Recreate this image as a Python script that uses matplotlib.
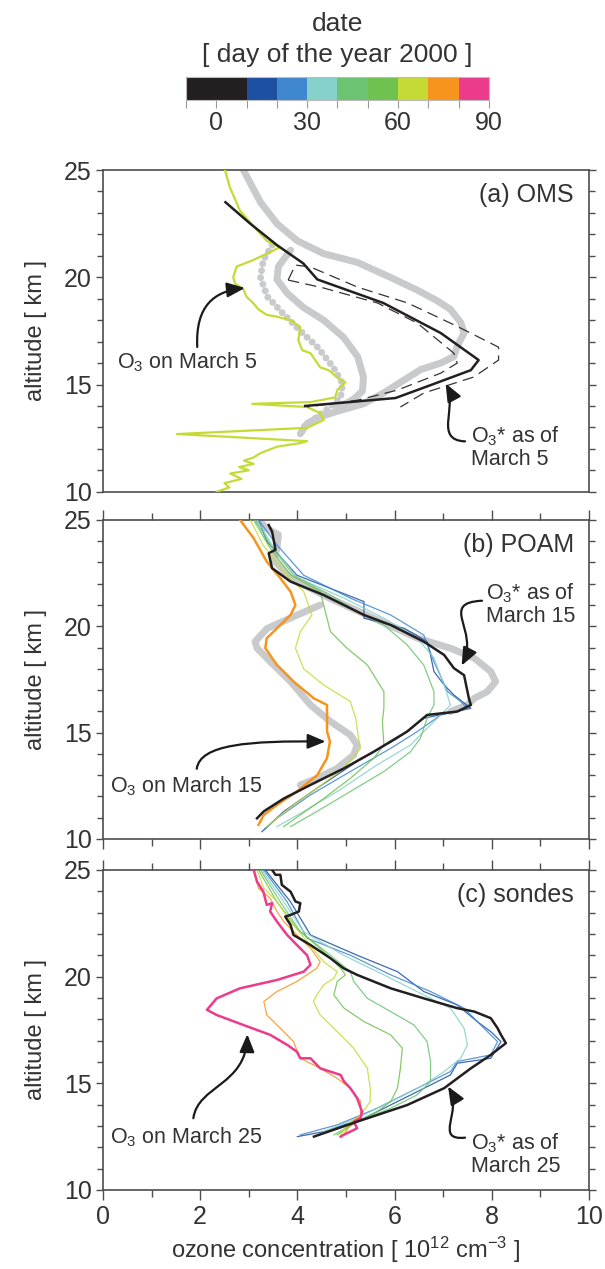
import matplotlib
matplotlib.use("Agg")
import matplotlib.pyplot as plt
from matplotlib.colors import ListedColormap, BoundaryNorm
from matplotlib.colorbar import ColorbarBase
from matplotlib.patches import FancyArrowPatch
from matplotlib.path import Path

plt.rcParams['font.family'] = ['Liberation Sans', 'DejaVu Sans']
plt.rcParams['mathtext.fontset'] = 'custom'
plt.rcParams['mathtext.rm'] = 'Liberation Sans'
plt.rcParams['mathtext.it'] = 'Liberation Sans:italic'
plt.rcParams['text.color'] = '#333333'
plt.rcParams['axes.labelcolor'] = '#333333'
plt.rcParams['xtick.color'] = '#4d4d4d'
plt.rcParams['ytick.color'] = '#4d4d4d'
plt.rcParams['xtick.labelcolor'] = '#333333'
plt.rcParams['ytick.labelcolor'] = '#333333'

# --- colour scale: day of the year 2000 ---
day_bounds = [-10, 0, 10, 20, 30, 40, 50, 60, 70, 80, 90]
day_colors = ['#231f20', '#231f20', '#1d4fa3', '#3f87cf', '#86d1cb',
              '#6cc473', '#6fc24f', '#c6da36', '#f7941e', '#ec3b8b']
day_ticks = [-10, 0, 10, 20, 30, 40, 50, 60, 70, 80, 90]
day_ticklabels = ['', '0', '', '', '30', '', '', '60', '', '', '90']

# --- (a) OMS ---
oms_mar5_conc = [2.51, 2.61, 2.82, 3.09, 3.37, 3.64, 3.37, 3.09, 2.75, 2.68, 2.72, 2.89, 2.95,
                 3.09, 3.20, 3.37, 3.60, 3.86, 4.06, 4.02, 4.10, 4.27, 4.47, 4.64, 4.89, 4.99,
                 4.82, 4.78, 4.27, 3.07, 4.20, 4.47, 4.54, 4.20, 1.52, 4.20, 4.06, 3.58, 3.24,
                 3.10, 2.90, 3.10, 2.80, 3.00, 2.62, 2.85, 2.50, 2.60, 2.34]
oms_mar5_alt = [25.0, 24.2, 23.1, 22.4, 21.7, 21.4, 21.1, 20.8, 20.5, 20.0, 19.7, 19.45, 19.1,
                18.8, 18.5, 18.25, 18.15, 18.0, 17.68, 17.07, 16.6, 16.46, 15.8, 15.67, 15.2, 15.1,
                14.74, 14.4, 14.18, 14.1, 13.95, 13.67, 13.34, 12.98, 12.69, 12.36, 12.27, 12.1, 11.8,
                11.6, 11.45, 11.3, 11.15, 11.0, 10.85, 10.6, 10.4, 10.2, 10.0]

oms_gray1_conc = [2.89, 3.03, 3.24, 3.58, 4.00, 4.54, 5.23, 5.91, 6.47, 6.88, 7.15, 7.36, 7.43,
                  7.29, 7.22, 6.95, 6.54, 6.19, 5.77, 5.36, 4.89, 4.47, 4.21, 4.06]
oms_gray1_alt = [25.0, 24.4, 23.5, 22.5, 21.7, 21.1, 20.7, 20.0, 19.4, 18.9, 18.5, 17.9, 17.4,
                 16.8, 16.3, 16.0, 15.7, 15.2, 14.6, 14.1, 13.8, 13.5, 13.2, 12.7]
oms_gray2_conc = [3.86, 3.61, 3.58, 3.79, 4.12, 4.54, 4.95, 5.24, 5.36, 5.34, 5.15, 4.82]
oms_gray2_alt = [21.27, 20.5, 19.9, 19.26, 18.6, 18.0, 17.2, 16.3, 15.35, 14.7, 14.3, 13.9]
oms_gray3_conc = [3.48, 3.30, 3.24, 3.38, 3.71, 4.06, 4.41, 4.74, 4.93, 4.89, 4.68, 4.41, 4.12, 4.06]
oms_gray3_alt = [21.5, 20.8, 20.0, 19.1, 18.3, 17.5, 16.75, 15.8, 15.05, 14.4, 13.95, 13.5, 13.0, 12.65]

oms_star_conc = [2.52, 3.03, 3.58, 4.12, 4.41, 5.77, 6.95, 7.73, 7.57, 6.74, 6.02, 4.16]
oms_star_alt = [23.5, 22.5, 21.5, 20.65, 19.9, 18.8, 17.4, 16.14, 15.67, 14.97, 14.37, 14.0]
oms_star_hi_conc = [3.81, 3.96, 4.27, 5.24, 6.27, 7.30, 8.14, 8.14, 7.63, 6.60, 6.12]
oms_star_hi_alt = [19.87, 20.57, 20.48, 19.54, 18.8, 17.7, 16.74, 16.14, 15.35, 14.6, 13.95]
oms_star_lo_conc = [3.81, 4.54, 5.65, 6.47, 7.22, 7.29, 6.95, 6.06, 5.24, 4.20]
oms_star_lo_alt = [19.87, 19.5, 18.8, 17.86, 16.46, 16.0, 15.53, 14.74, 14.27, 13.95]

# --- (b) POAM ---
poam_days = [15, 25, 35, 45, 55, 65]
poam_conc = [
    [3.20, 3.37, 3.99, 5.37, 5.37, 6.20, 6.67, 6.74, 6.81, 7.02, 7.22, 7.57, 6.60, 6.06, 5.23, 4.40, 3.72, 3.27],
    [3.20, 3.55, 4.13, 5.09, 5.92, 6.60, 6.81, 7.09, 7.36, 7.50, 6.95, 6.47, 5.92, 5.09, 4.27, 3.58, 3.31],
    [3.17, 3.51, 3.99, 4.96, 5.78, 6.47, 6.81, 7.02, 7.15, 6.95, 6.67, 6.33, 5.64, 4.82, 4.13, 3.58],
    [3.13, 3.48, 3.92, 4.68, 5.23, 5.78, 6.26, 6.60, 6.81, 6.81, 6.67, 6.53, 6.33, 5.78, 5.09, 4.40, 3.86],
    [3.10, 3.44, 3.86, 4.47, 4.54, 4.68, 5.02, 5.44, 5.78, 5.78, 5.75, 5.78, 5.57, 5.09, 4.54, 4.06, 3.72],
    [3.03, 3.30, 3.72, 4.13, 4.30, 4.06, 3.96, 4.13, 4.54, 5.09, 5.20, 5.26, 5.30, 4.95, 4.40, 3.92, 3.58, 3.37],
]
poam_alt = [
    [25.0, 24.0, 22.4, 21.16, 20.38, 19.9, 19.28, 18.65, 17.87, 17.24, 16.77, 16.14, 15.67, 14.73, 13.64, 12.38, 11.29, 10.34],
    [25.0, 23.9, 22.4, 21.32, 20.53, 19.59, 18.34, 16.93, 16.46, 16.14, 15.83, 15.05, 14.26, 13.17, 12.07, 10.97, 10.42],
    [25.0, 23.7, 22.3, 21.32, 20.38, 19.44, 18.5, 17.24, 16.3, 15.83, 15.2, 14.42, 13.48, 12.23, 11.29, 10.58],
    [25.0, 23.7, 22.4, 21.47, 20.69, 20.06, 19.12, 18.18, 16.93, 16.3, 15.67, 14.73, 14.1, 13.17, 12.23, 11.29, 10.58],
    [25.0, 23.67, 22.41, 21.63, 21.0, 19.75, 18.97, 18.18, 16.93, 16.14, 15.52, 14.42, 13.79, 12.85, 11.9, 11.13, 10.58],
    [25.0, 23.8, 22.57, 21.63, 20.53, 19.75, 18.97, 18.0, 17.24, 16.46, 15.67, 14.73, 14.26, 13.32, 12.38, 11.6, 10.97, 10.58],
]
poam_mar15_conc = [2.82, 3.10, 3.37, 3.65, 3.86, 3.96, 3.86, 3.58, 3.37, 3.34, 3.58, 3.92, 4.34,
                   4.61, 4.61, 4.67, 4.61, 4.41, 3.99, 3.58, 3.31, 3.20]
poam_mar15_alt = [25.0, 24.14, 23.04, 22.26, 21.63, 21.0, 20.53, 19.9, 19.44, 18.97, 18.18, 17.4, 16.61,
                  16.3, 15.05, 14.58, 13.8, 13.0, 12.23, 11.6, 11.13, 10.66]
poam_star_conc = [3.41, 3.48, 3.55, 3.41, 3.48, 3.86, 4.54, 5.37, 5.92, 6.60, 7.02, 7.22, 7.43,
                  7.53, 7.57, 7.29, 6.67, 6.26, 5.57, 4.96, 4.27, 3.72, 3.31, 3.17]
poam_star_alt = [24.76, 24.45, 23.6, 23.43, 22.73, 22.1, 21.47, 20.53, 20.06, 19.28, 18.65, 18.03, 17.7,
                 16.6, 16.3, 15.99, 15.83, 15.05, 14.1, 13.32, 12.54, 11.9, 11.3, 10.97]
poam_gray1_conc = [3.20, 3.37, 3.61, 3.58, 3.51, 3.86, 4.68, 5.57, 6.47, 7.15, 7.64, 7.98, 8.08,
                   7.91, 7.64, 7.50, 7.15]
poam_gray1_alt = [25.0, 24.6, 24.3, 23.67, 23.12, 22.26, 21.3, 20.38, 19.44, 18.97, 18.5, 17.87, 17.4,
                  16.93, 16.61, 16.3, 15.99]
poam_gray2_conc = [4.47, 4.00, 3.38, 3.13, 3.17, 3.44, 3.86, 4.27, 4.68, 5.09, 5.23, 5.16, 4.82, 4.41, 4.06]
poam_gray2_alt = [21.0, 20.53, 19.9, 19.28, 18.97, 18.34, 17.4, 16.3, 15.52, 14.89, 14.42, 13.95, 13.32, 12.85, 12.54]

# --- (c) sondes ---
sonde_days = [15, 25, 35, 45, 55, 65, 75]
sonde_conc = [
    [3.34, 3.86, 4.27, 5.23, 6.06, 6.60, 7.29, 7.70, 7.98, 8.19, 7.98, 7.29, 7.15, 6.33, 5.37, 4.54, 4.00],
    [3.31, 3.79, 4.20, 5.09, 5.92, 6.74, 7.43, 7.84, 8.12, 7.98, 7.29, 7.15, 6.47, 5.64, 4.82, 4.06],
    [3.27, 3.72, 4.13, 4.95, 5.78, 6.60, 7.15, 7.43, 7.50, 7.36, 7.02, 6.60, 5.92, 5.23, 4.54],
    [3.24, 3.65, 4.06, 4.68, 5.09, 5.16, 5.44, 5.92, 6.40, 6.67, 6.74, 6.74, 6.46, 5.92, 5.23, 4.75],
    [3.20, 3.58, 3.99, 4.54, 4.89, 4.99, 4.82, 4.75, 4.96, 5.37, 5.92, 6.16, 6.12, 6.06, 5.92, 5.64, 5.23, 4.82],
    [3.17, 3.31, 3.58, 3.86, 4.20, 4.54, 4.82, 4.75, 4.54, 4.40, 4.33, 4.47, 4.82, 5.16, 5.44, 5.50, 5.50, 5.30, 5.02, 4.89],
    [3.10, 3.20, 3.44, 3.58, 3.72, 3.99, 4.27, 4.47, 4.40, 3.99, 3.58, 3.31, 3.37, 3.65, 3.92, 4.06,
     4.47, 4.82, 5.09, 5.30, 5.30, 5.09, 4.95],
]
sonde_alt = [
    [25.0, 23.5, 21.95, 21.0, 20.23, 19.3, 18.67, 17.89, 17.42, 16.95, 16.17, 15.94, 15.39, 14.45, 13.36, 12.73, 12.5],
    [25.0, 23.5, 21.8, 21.0, 20.08, 19.3, 18.52, 17.58, 16.95, 16.33, 16.02, 15.55, 14.77, 13.83, 13.05, 12.58],
    [25.0, 23.5, 22.1, 21.0, 20.08, 19.14, 18.52, 17.58, 16.8, 16.17, 15.55, 14.92, 14.14, 13.36, 12.73],
    [25.0, 23.5, 22.1, 21.0, 20.23, 19.77, 18.98, 18.36, 17.73, 16.95, 16.02, 15.08, 14.45, 13.83, 13.2, 12.58],
    [25.0, 23.5, 22.25, 21.17, 20.39, 20.08, 19.77, 19.14, 18.52, 17.89, 17.27, 16.64, 15.7, 14.77, 14.14, 13.67, 13.2, 12.58],
    [25.0, 24.14, 23.52, 22.58, 21.64, 20.7, 20.23, 19.92, 19.61, 19.14, 18.83, 18.2, 17.42, 16.64, 15.7,
     14.77, 14.14, 13.52, 13.05, 12.58],
    [25.0, 24.14, 23.67, 23.05, 22.58, 21.95, 21.33, 20.7, 20.39, 19.77, 19.3, 18.83, 18.2, 17.58, 16.95, 16.17,
     15.7, 15.23, 14.77, 14.14, 13.52, 13.05, 12.58],
]
sonde_mar25_conc = [3.10, 3.17, 3.30, 3.37, 3.48, 3.44, 3.58, 3.79, 3.99, 4.20, 4.27, 4.13, 3.58, 2.82,
                    2.34, 2.14, 2.34, 2.89, 3.44, 3.79, 3.99, 4.06, 4.27, 4.47, 4.89, 4.96, 5.09,
                    5.23, 5.33, 5.30, 5.16, 5.23, 4.95, 4.89]
sonde_mar25_alt = [25.0, 24.45, 23.98, 23.36, 23.44, 23.05, 22.58, 21.95, 21.48, 21.0, 20.55, 20.23, 19.84, 19.45,
                   18.98, 18.44, 18.2, 17.73, 17.27, 16.8, 16.48, 16.17, 16.17, 15.7, 15.39, 15.08, 14.77,
                   14.3, 13.67, 13.36, 13.2, 12.89, 12.58, 12.5]
sonde_star_conc = [3.48, 3.55, 3.65, 3.68, 3.86, 3.96, 4.06, 4.03, 3.86, 3.75, 3.86, 3.92, 4.27, 4.68,
                   4.95, 5.23, 5.92, 6.60, 7.29, 7.64, 7.98, 8.12, 8.19, 8.29, 7.98, 7.57, 7.02,
                   6.26, 5.23, 4.34]
sonde_star_alt = [25.0, 24.77, 24.77, 24.3, 23.98, 23.52, 23.44, 23.05, 22.89, 22.81, 22.42, 21.95, 21.48, 20.86,
                  20.39, 20.08, 19.45, 18.98, 18.52, 18.36, 18.05, 17.58, 17.27, 16.88, 16.33, 15.7, 14.77,
                  13.98, 13.2, 12.5]

cmap = ListedColormap(day_colors)
norm = BoundaryNorm(day_bounds, cmap.N)
GRAY = '#c9cacc'


def style_axes(ax, xticks_on, xlabels_on):
    ax.set_xlim(0, 10)
    ax.set_ylim(10, 25)
    ax.set_yticks([10, 15, 20, 25])
    ax.set_yticks(range(10, 26), minor=True)
    ax.set_xticks(range(0, 11, 2))
    ax.set_xticks(range(0, 11), minor=True)
    for s in ax.spines.values():
        s.set_color('#4d4d4d')
        s.set_linewidth(1.2)
    ax.tick_params(axis='y', which='both', direction='out', left=True, right=True,
                   labelsize=18, width=1.0, pad=3)
    ax.tick_params(axis='y', which='major', length=5)
    ax.tick_params(axis='y', which='minor', length=4)
    if xticks_on:
        ax.tick_params(axis='x', which='both', direction='out', top=True, bottom=True,
                       labelbottom=xlabels_on, labelsize=18, width=1.0, pad=4)
        ax.tick_params(axis='x', which='major', length=7)
        ax.tick_params(axis='x', which='minor', length=5)
    else:
        ax.tick_params(axis='x', which='both', top=False, bottom=False, labelbottom=False)
    ax.set_ylabel('altitude [ km ]', fontsize=17)
    ax.yaxis.set_label_coords(-0.115, 0.5)


def curved_arrow(ax, pts):
    path = Path(pts, [Path.MOVETO, Path.CURVE4, Path.CURVE4, Path.CURVE4])
    arr = FancyArrowPatch(path=path, arrowstyle='-|>,head_length=0.6,head_width=0.25',
                          mutation_scale=18, color='#1a1a1a', lw=1.6, zorder=10)
    ax.add_patch(arr)


fig = plt.figure(figsize=(6.05, 12.69), dpi=100)
ax_a = fig.add_axes([0.1702, 0.6125, 0.8033, 0.2535])
ax_b = fig.add_axes([0.1702, 0.3389, 0.8033, 0.2514])
ax_c = fig.add_axes([0.1702, 0.0623, 0.8033, 0.2522])

# panel (a)
ax_a.plot(oms_gray1_conc, oms_gray1_alt, color=GRAY, lw=5, solid_capstyle='round', zorder=1)
ax_a.plot(oms_gray2_conc, oms_gray2_alt, color=GRAY, lw=5, solid_capstyle='round', zorder=1)
ax_a.plot(oms_gray3_conc, oms_gray3_alt, color=GRAY, lw=5, linestyle=(0, (0.01, 1.0)),
          dash_capstyle='round', zorder=1)
ax_a.plot(oms_mar5_conc, oms_mar5_alt, color=cmap(norm(65)), lw=1.6, zorder=3)
ax_a.plot(oms_star_hi_conc, oms_star_hi_alt, color='#333333', lw=0.9, linestyle=(0, (9, 5)), zorder=4)
ax_a.plot(oms_star_lo_conc, oms_star_lo_alt, color='#333333', lw=0.9, linestyle=(0, (9, 5)), zorder=4)
ax_a.plot(oms_star_conc, oms_star_alt, color=cmap(norm(5)), lw=1.8, zorder=5)
style_axes(ax_a, False, False)
ax_a.text(9.69, 23.5, '(a) OMS', ha='right', va='baseline', fontsize=18)
ax_a.text(0.29, 15.76, r'$\mathregular{O_3}$ on March 5', ha='left', va='baseline', fontsize=15.5)
ax_a.text(7.57, 11.24, '$\\mathregular{O_3}$* as of\nMarch 5', ha='left', va='baseline',
          fontsize=15.5, linespacing=1.05)
curved_arrow(ax_a, [(1.94, 16.75), (1.9, 18.7), (2.3, 19.35), (2.92, 19.5)])
curved_arrow(ax_a, [(7.45, 12.35), (6.8, 12.4), (7.3, 14.0), (7.05, 15.05)])

# panel (b)
ax_b.plot(poam_gray1_conc, poam_gray1_alt, color=GRAY, lw=5, solid_capstyle='round', zorder=1)
ax_b.plot(poam_gray2_conc, poam_gray2_alt, color=GRAY, lw=5, solid_capstyle='round', zorder=1)
for d, xs, ys in zip(poam_days, poam_conc, poam_alt):
    ax_b.plot(xs, ys, color=cmap(norm(d)), lw=0.9, alpha=0.85, zorder=3)
ax_b.plot(poam_mar15_conc, poam_mar15_alt, color=cmap(norm(75)), lw=1.8, zorder=4)
ax_b.plot(poam_star_conc, poam_star_alt, color=cmap(norm(5)), lw=1.8, zorder=5)
style_axes(ax_b, True, False)
ax_b.text(9.69, 23.5, '(b) POAM', ha='right', va='baseline', fontsize=18)
ax_b.text(0.14, 12.17, r'$\mathregular{O_3}$ on March 15', ha='left', va='baseline', fontsize=15.5)
ax_b.text(7.88, 20.2, '$\\mathregular{O_3}$* as of\nMarch 15', ha='left', va='baseline',
          fontsize=15.5, linespacing=1.05)
curved_arrow(ax_b, [(1.93, 13.3), (2.0, 14.45), (3.0, 14.62), (4.58, 14.58)])
curved_arrow(ax_b, [(7.8, 21.2), (6.9, 21.1), (7.75, 19.8), (7.38, 18.15)])

# panel (c)
for d, xs, ys in zip(sonde_days, sonde_conc, sonde_alt):
    ax_c.plot(xs, ys, color=cmap(norm(d)), lw=0.9, alpha=0.85, zorder=3)
ax_c.plot(sonde_mar25_conc, sonde_mar25_alt, color=cmap(norm(85)), lw=1.8, zorder=4)
ax_c.plot(sonde_star_conc, sonde_star_alt, color=cmap(norm(5)), lw=1.8, zorder=5)
style_axes(ax_c, True, True)
ax_c.text(9.69, 23.5, '(c) sondes', ha='right', va='baseline', fontsize=18)
ax_c.text(0.14, 12.2, r'$\mathregular{O_3}$ on March 25', ha='left', va='baseline', fontsize=15.5)
ax_c.text(7.57, 10.84, '$\\mathregular{O_3}$* as of\nMarch 25', ha='left', va='baseline',
          fontsize=15.5, linespacing=1.05)
curved_arrow(ax_c, [(1.86, 13.36), (1.95, 14.9), (2.95, 14.9), (2.97, 17.3)])
curved_arrow(ax_c, [(7.45, 12.45), (6.8, 12.3), (7.4, 13.7), (7.1, 14.85)])
ax_c.set_xlabel('ozone concentration [ $\\mathregular{10^{12}}$ cm$\\mathregular{^{-3}}$ ]',
                fontsize=17, labelpad=4)

# colour bar
cax = fig.add_axes([0.3074, 0.9212, 0.5008, 0.0181])
cb = ColorbarBase(cax, cmap=cmap, norm=norm, orientation='horizontal', ticks=day_ticks)
cb.set_ticklabels(day_ticklabels)
cb.outline.set_edgecolor('#bbbbbb')
cb.outline.set_linewidth(0.8)
cax.tick_params(direction='out', length=6, width=0.8, color='#999999', labelsize=18, pad=2)
fig.text(0.5579, 1 - 24 / 1269, 'date', ha='center', va='center', fontsize=19)
fig.text(0.5579, 1 - 55 / 1269, '[ day of the year 2000 ]', ha='center', va='center', fontsize=19)

fig.savefig('out.png', dpi=100)
